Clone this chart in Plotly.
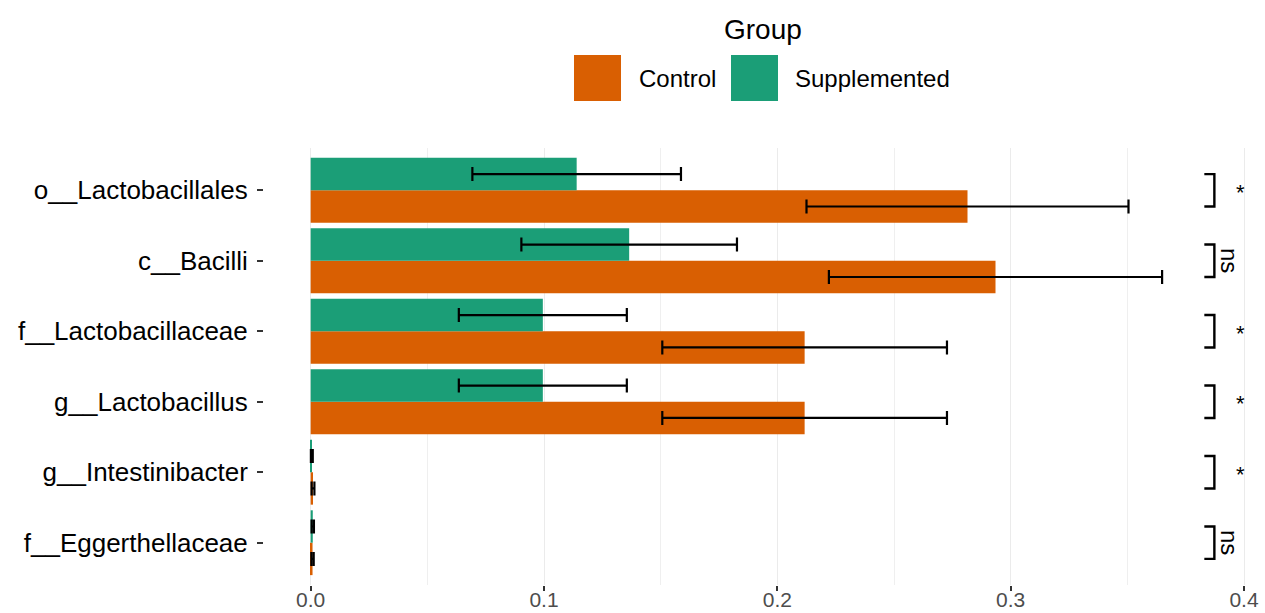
import plotly.graph_objects as go

# Taxa, listed bottom-to-top as they appear on the y axis
taxa = [
    "f__Eggerthellaceae",
    "g__Intestinibacter",
    "g__Lactobacillus",
    "f__Lactobacillaceae",
    "c__Bacilli",
    "o__Lactobacillales",
]

# Mean relative abundance and standard error per group
control_mean = [0.0008, 0.0010, 0.2117, 0.2117, 0.2935, 0.2815]
control_err = [0.0005, 0.0006, 0.0610, 0.0610, 0.0714, 0.0690]
supp_mean = [0.0009, 0.0005, 0.0995, 0.0995, 0.1365, 0.1140]
supp_err = [0.0005, 0.0004, 0.0360, 0.0360, 0.0462, 0.0447]

# Significance label per taxon (same order as taxa)
signif = ["ns", "*", "*", "*", "ns", "*"]

groups = ["Control", "Supplemented"]
colors = {"Control": "#D95F02", "Supplemented": "#1B9E77"}

FONT = "Liberation Sans, Arial, sans-serif"

# Canvas / panel geometry in pixels
W, H = 1265, 613
ML, MR, MT, MB = 264, 0, 148, 28
PW, PH = W - ML - MR, H - MT - MB


def px_x(px):
    return (px - ML) / PW


def px_y(py):
    return (H - MB - py) / PH


fig = go.Figure()
fig.add_trace(go.Bar(
    y=taxa, x=control_mean, orientation="h", name="Control",
    marker=dict(color=colors["Control"], line=dict(width=0)),
    error_x=dict(type="data", array=control_err, symmetric=True,
                 color="black", thickness=2.2, width=7),
    showlegend=False,
))
fig.add_trace(go.Bar(
    y=taxa, x=supp_mean, orientation="h", name="Supplemented",
    marker=dict(color=colors["Supplemented"], line=dict(width=0)),
    error_x=dict(type="data", array=supp_err, symmetric=True,
                 color="black", thickness=2.2, width=7),
    showlegend=False,
))

shapes = []
annotations = []

# Significance brackets joining the two bars of each taxon
half = 0.23
for i, lab in enumerate(signif):
    x_in, x_out = 0.3830, 0.3873
    shapes.append(dict(
        type="path", xref="x", yref="y",
        path=f"M {x_in},{i + half} L {x_out},{i + half} L {x_out},{i - half} L {x_in},{i - half}",
        line=dict(color="black", width=2.4),
    ))
    if lab == "ns":
        annotations.append(dict(
            x=0.3935, y=i, xref="x", yref="y", text="ns", showarrow=False,
            textangle=90, font=dict(family=FONT, size=24, color="black"),
            xanchor="center", yanchor="middle",
        ))
    else:
        annotations.append(dict(
            x=0.3985, y=i - 0.03, xref="x", yref="y", text="*", showarrow=False,
            font=dict(family=FONT, size=22, color="black"),
            xanchor="center", yanchor="middle",
        ))

# Legend drawn by hand with large square keys
annotations.append(dict(
    x=px_x(763), y=px_y(30), xref="paper", yref="paper", text="Group",
    showarrow=False, font=dict(family=FONT, size=28, color="black"),
    xanchor="center", yanchor="middle",
))
key_left = {"Control": 574, "Supplemented": 731}
text_left = {"Control": 637, "Supplemented": 793}
for g in groups:
    shapes.append(dict(
        type="rect", xref="paper", yref="paper",
        x0=px_x(key_left[g]), x1=px_x(key_left[g] + 47),
        y0=px_y(101), y1=px_y(55),
        fillcolor=colors[g], line=dict(width=0),
    ))
    annotations.append(dict(
        x=px_x(text_left[g]), y=px_y(78), xref="paper", yref="paper", text=g,
        showarrow=False, font=dict(family=FONT, size=24, color="black"),
        xanchor="left", yanchor="middle",
    ))

fig.update_layout(
    width=W, height=H,
    margin=dict(l=ML, r=MR, t=MT, b=MB, pad=0, autoexpand=False),
    paper_bgcolor="white", plot_bgcolor="white",
    barmode="group", bargap=0.08, bargroupgap=0,
    shapes=shapes, annotations=annotations,
    showlegend=False,
    font=dict(family=FONT),
)
fig.update_xaxes(
    range=[-0.02, 0.409], dtick=0.1, tick0=0, tickformat=".1f",
    showgrid=True, gridcolor="#EBEBEB", gridwidth=1.2,
    minor=dict(dtick=0.05, tick0=0, showgrid=True, gridcolor="#EFEFEF", gridwidth=1),
    zeroline=False, showline=False, automargin=False,
    ticks="outside", ticklen=5, tickwidth=2, tickcolor="#333333",
    tickfont=dict(family=FONT, size=21, color="#4D4D4D"),
    ticklabelstandoff=-9,
)
fig.update_yaxes(
    type="category", categoryorder="array", categoryarray=taxa,
    range=[-0.6, 5.6], showgrid=False, zeroline=False, showline=False,
    automargin=False,
    ticks="outside", ticklen=6, tickwidth=2, tickcolor="#333333",
    tickfont=dict(family=FONT, size=26, color="black"),
    ticklabelstandoff=4,
)

fig.write_html("out.html")
